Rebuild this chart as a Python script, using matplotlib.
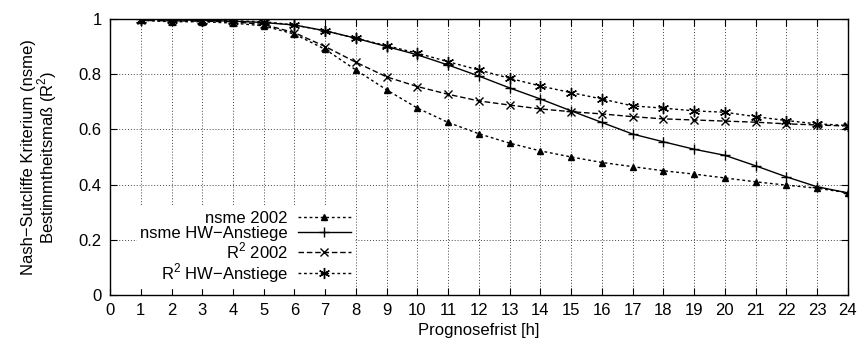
import matplotlib
matplotlib.use('Agg')
import matplotlib.pyplot as plt
import numpy as np

plt.rcParams['font.family'] = ['Liberation Sans', 'DejaVu Sans']
plt.rcParams['mathtext.fontset'] = 'custom'
plt.rcParams['mathtext.rm'] = 'Liberation Sans'

hours = list(range(1, 25))
nsme_2002 = [0.995, 0.99, 0.99, 0.985, 0.975, 0.945, 0.89, 0.815, 0.743, 0.677, 0.625, 0.584,
             0.55, 0.522, 0.5, 0.48, 0.465, 0.45, 0.438, 0.424, 0.41, 0.398, 0.387, 0.37]
nsme_hw = [1.0, 0.997, 0.995, 0.992, 0.987, 0.978, 0.957, 0.93, 0.9, 0.87, 0.833, 0.793,
           0.75, 0.71, 0.667, 0.625, 0.583, 0.555, 0.528, 0.506, 0.468, 0.428, 0.392, 0.37]
r2_2002 = [0.995, 0.993, 0.992, 0.99, 0.98, 0.95, 0.9, 0.843, 0.79, 0.755, 0.727, 0.703,
           0.688, 0.674, 0.664, 0.656, 0.646, 0.638, 0.634, 0.63, 0.626, 0.62, 0.616, 0.612]
r2_hw = [0.997, 0.995, 0.994, 0.993, 0.99, 0.978, 0.957, 0.93, 0.903, 0.876, 0.845, 0.815,
         0.785, 0.757, 0.733, 0.71, 0.685, 0.677, 0.667, 0.662, 0.646, 0.632, 0.62, 0.614]

FS = 12

fig = plt.figure(figsize=(8.63, 3.49), dpi=100)
ax = fig.add_axes([0.1275, 0.1547, 0.855, 0.791])

ax.plot(hours, nsme_2002, color='black', lw=1, ls=(0, (2, 2)), marker='^', ms=5, label='nsme 2002')
ax.plot(hours, nsme_hw, color='black', lw=1, ls='-', marker='+', ms=7, label='nsme HW\u2212Anstiege')
ax.plot(hours, r2_2002, color='black', lw=1, ls=(0, (4, 2)), marker='x', ms=6, label='R$^2$ 2002')
ax.plot(hours, r2_hw, color='black', lw=1, ls=(0, (2, 2)), marker=(6, 2, 0), ms=8, label='R$^2$ HW\u2212Anstiege')

ax.set_xlim(0, 24)
ax.set_ylim(0, 1)
ax.set_xticks(range(0, 25))
ax.set_yticks([0, 0.2, 0.4, 0.6, 0.8, 1.0])
ax.set_yticklabels(['0', '0.2', '0.4', '0.6', '0.8', '1'])
ax.tick_params(direction='in', top=True, right=True, labelsize=FS, length=5, pad=6)
ax.grid(True, color='#444444', ls=(0, (1, 2)), lw=0.7)
for s in ax.spines.values():
    s.set_linewidth(1)

ax.set_xlabel('Prognosefrist [h]', fontsize=FS, labelpad=3)
ax.set_ylabel('Nash\u2212Sutcliffe Kriterium (nsme)\nBestimmtheitsmaß (R$^2$)', fontsize=FS,
              labelpad=14, linespacing=0.95)

leg = ax.legend(loc='lower left', bbox_to_anchor=(0.025, -0.005), markerfirst=False, fontsize=FS,
                handlelength=3.2, handletextpad=0.6, labelspacing=0.0, borderpad=0.2,
                frameon=True, fancybox=False, framealpha=1, edgecolor='white')
for t in leg.get_texts():
    t.set_ha('right')
leg._legend_box.align = 'right'

fig.savefig('out.png', dpi=100)
